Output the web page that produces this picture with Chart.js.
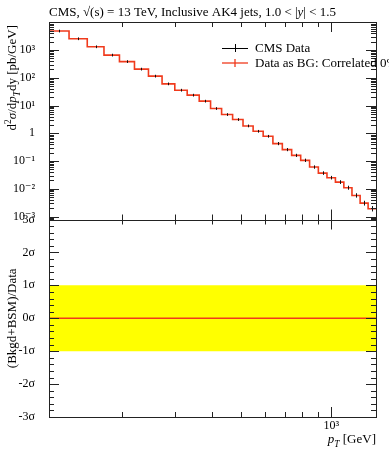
<!DOCTYPE html>
<html>
<head>
<meta charset="utf-8">
<script src="https://cdn.jsdelivr.net/npm/chart.js@4"></script>
<style>
  html, body { margin: 0; padding: 0; background: #fff; }
  #wrap { width: 389px; height: 450px; position: relative; }
</style>
</head>
<body>
<div id="wrap"><canvas id="chart"></canvas></div>
<script>
// bin edges in pT [GeV]
var binEdges = [114, 133, 153, 174, 196, 220, 245, 272, 300, 330, 362, 395, 430, 468, 507, 548,
                592, 638, 686, 737, 790, 846, 905, 967, 1032, 1101, 1172, 1248, 1327, 1410];
// d2sigma/dpT dy [pb/GeV], one per bin
var xsec = [4860, 2560, 1316, 659, 385, 206, 115, 60.5, 35.8, 23.7, 14.4, 7.82, 4.74, 3.13, 1.84,
            1.18, 0.78, 0.425, 0.258, 0.160, 0.106, 0.0606, 0.0368, 0.0251, 0.0174, 0.0109,
            0.00575, 0.00303, 0.00190];
// relative error of data points
var relErr = [0.12, 0.12, 0.12, 0.12, 0.12, 0.12, 0.12, 0.12, 0.12, 0.12, 0.12, 0.12, 0.12, 0.12, 0.12,
              0.12, 0.12, 0.14, 0.14, 0.14, 0.15, 0.15, 0.16, 0.16, 0.17, 0.18, 0.2, 0.22, 0.25];
// ratio (Bkgd+BSM)/Data in sigma
var ratioSigma = [0, 0, 0, 0, 0, 0, 0, 0, 0, 0, 0, 0, 0, 0, 0, 0, 0, 0, 0, 0, 0, 0, 0, 0, 0, 0, 0, 0, 0];
var bandHi = 1, bandLo = -1;
var yDecades = [1e-3, 1e-2, 1e-1, 1, 10, 100, 1000];
var sigmaTicks = [-3, -2, -1, 0, 1, 2, 3];
var xMajor = [1000];

var FONT = '"Liberation Serif", "DejaVu Serif", serif';
var RED = '#f03a1c';

function stepPoints(vals) {
    var pts = [];
    for (var i = 0; i < vals.length; i++) pts.push({x: binEdges[i], y: vals[i]});
    pts.push({x: binEdges[binEdges.length - 1], y: vals[vals.length - 1]});
    return pts;
}
var centres = xsec.map(function(v, i) {
    return {x: Math.sqrt(binEdges[i] * binEdges[i + 1]), y: v, e: relErr[i]};
});

var supMap = {'-': '\u207b', '0': '\u2070', '1': '\u00b9', '2': '\u00b2', '3': '\u00b3'};
function decadeLabel(v) {
    var p = Math.round(Math.log10(v));
    if (p === 0) return '1';
    return '10' + String(p).split('').map(function(c) { return supMap[c]; }).join('');
}

function fontOf(p, size) {
    var s = (p.sub || p.sup) ? size * 0.72 : size;
    return (p.i ? 'italic ' : '') + s + 'px ' + FONT;
}
function drawRich(ctx, parts, x, y, size, align) {
    var w = 0;
    parts.forEach(function(p) { ctx.font = fontOf(p, size); w += ctx.measureText(p.t).width; });
    var cx = align === 'right' ? x - w : (align === 'center' ? x - w / 2 : x);
    parts.forEach(function(p) {
        ctx.font = fontOf(p, size);
        var dy = p.sub ? size * 0.28 : (p.sup ? -size * 0.38 : 0);
        ctx.fillText(p.t, cx, y + dy);
        cx += ctx.measureText(p.t).width;
    });
}

// frames, inner ticks, error bars, labels, legend
var decor = {
    id: 'decor',
    afterDatasetsDraw: function(chart) {
        var ctx = chart.ctx, xs = chart.scales.x, ys = chart.scales.y;
        ctx.save();
        ctx.strokeStyle = '#111';
        ctx.lineWidth = 1;
        centres.forEach(function(c) {
            var px = Math.round(xs.getPixelForValue(c.x)) + 0.5;
            ctx.beginPath();
            ctx.moveTo(px, ys.getPixelForValue(c.y * (1 + c.e)));
            ctx.lineTo(px, ys.getPixelForValue(c.y / (1 + c.e)));
            ctx.stroke();
        });
        ctx.restore();
    },
    afterDraw: function(chart) {
        var ctx = chart.ctx, xs = chart.scales.x, ys = chart.scales.y, y2 = chart.scales.y2;
        var L = xs.left, R = xs.right;
        var T1 = ys.top, B1 = ys.bottom, T2 = y2.top, B2 = y2.bottom;
        ctx.save();
        ctx.strokeStyle = '#222';
        ctx.lineWidth = 1;
        function seg(x1, y1, x2, y2b) {
            ctx.beginPath(); ctx.moveTo(x1, y1); ctx.lineTo(x2, y2b); ctx.stroke();
        }
        function r(v) { return Math.round(v) + 0.5; }
        // frames
        ctx.strokeRect(r(L), r(T1), Math.round(R - L), Math.round(B2 - T1));
        seg(L, r(B1), R, r(B1));
        // x ticks
        for (var d = 100; d <= 1000; d *= 10) {
            for (var m = 1; m <= 9; m++) {
                var v = d * m;
                if (v < xs.min || v > xs.max) continue;
                var px = r(xs.getPixelForValue(v));
                var len = (m === 1) ? 10 : 5;
                seg(px, T1, px, T1 + len);
                seg(px, B1 - len, px, B1 + len);
                seg(px, B2, px, B2 - len);
            }
        }
        // upper y ticks
        for (var e = -4; e <= 4; e++) {
            for (var k = 1; k <= 9; k++) {
                var yv = k * Math.pow(10, e);
                if (yv < ys.min || yv > ys.max) continue;
                var py = r(ys.getPixelForValue(yv));
                var ln = (k === 1) ? 10 : 5;
                seg(L, py, L + ln, py);
                seg(R, py, R - ln, py);
            }
        }
        // lower y ticks
        for (var s = -15; s <= 15; s++) {
            var sv = s / 5;
            var qy = r(y2.getPixelForValue(sv));
            var l2 = (s % 5 === 0) ? 10 : 5;
            seg(L, qy, L + l2, qy);
            seg(R, qy, R - l2, qy);
        }
        ctx.restore();

        // text
        ctx.save();
        ctx.fillStyle = '#000';
        ctx.textBaseline = 'alphabetic';
        drawRich(ctx, [{t: 'CMS, \u221a(s) = 13 TeV, Inclusive AK4 jets, 1.0 < |'}, {t: 'y', i: true},
                       {t: '| < 1.5'}], L, 16, 13, 'left');
        drawRich(ctx, [{t: 'p', i: true}, {t: 'T', i: true, sub: true}, {t: ' [GeV]'}], R, 443, 13, 'right');
        ctx.save();
        ctx.translate(16, T1 + 3);
        ctx.rotate(-Math.PI / 2);
        drawRich(ctx, [{t: 'd'}, {t: '2', sup: true}, {t: '\u03c3', i: true}, {t: '/d'}, {t: 'p', i: true},
                       {t: 'T', i: true, sub: true}, {t: 'dy [pb/GeV]'}], 0, 0, 13, 'right');
        ctx.restore();
        ctx.save();
        ctx.translate(16, (T2 + B2) / 2);
        ctx.rotate(-Math.PI / 2);
        drawRich(ctx, [{t: '(Bkgd+BSM)/Data'}], 0, 0, 13, 'center');
        ctx.restore();

        // legend
        var lx = 222, ly1 = 48, ly2 = 63;
        ctx.lineWidth = 1;
        ctx.strokeStyle = '#000';
        seg(lx, r(ly1), lx + 26, r(ly1));
        seg(r(lx + 13), ly1 - 4, r(lx + 13), ly1 + 4);
        ctx.strokeStyle = RED;
        ctx.lineWidth = 1.3;
        seg(lx, ly2, lx + 26, ly2);
        seg(lx + 13, ly2 - 4, lx + 13, ly2 + 4);
        ctx.textBaseline = 'middle';
        drawRich(ctx, [{t: 'CMS Data'}], 255, ly1 + 1, 13, 'left');
        drawRich(ctx, [{t: 'Data as BG: Correlated 0%'}], 255, ly2 + 1, 13, 'left');
        ctx.restore();
    }
};

var ctx = document.getElementById('chart').getContext('2d');
new Chart(ctx, {
    type: 'line',
    data: {
        datasets: [{
            label: 'Data as BG: Correlated 0%',
            data: stepPoints(xsec),
            yAxisID: 'y',
            stepped: 'before',
            borderColor: RED,
            borderWidth: 1.6,
            pointRadius: 0,
            fill: false,
            order: 0
        }, {
            label: 'ratio',
            data: stepPoints(ratioSigma),
            yAxisID: 'y2',
            stepped: 'before',
            borderColor: RED,
            borderWidth: 1.6,
            pointRadius: 0,
            fill: false,
            order: 1
        }, {
            label: 'band',
            data: [{x: binEdges[0], y: bandHi}, {x: binEdges[binEdges.length - 1], y: bandHi}],
            yAxisID: 'y2',
            borderWidth: 0,
            pointRadius: 0,
            backgroundColor: '#ffff00',
            fill: {value: bandLo},
            order: 2
        }]
    },
    options: {
        responsive: true,
        maintainAspectRatio: false,
        animation: false,
        events: [],
        layout: { padding: { left: 0, right: 13, top: 22, bottom: 0 } },
        plugins: { legend: { display: false }, tooltip: { enabled: false } },
        scales: {
            x: {
                type: 'logarithmic',
                min: 114,
                max: 1410,
                grid: { display: false },
                border: { display: false },
                afterBuildTicks: function(s) { s.ticks = xMajor.map(function(v) { return {value: v}; }); },
                afterFit: function(s) { s.height = 33; },
                ticks: {
                    autoSkip: false, maxRotation: 0, padding: -6,
                    color: '#000', font: { family: FONT, size: 12 },
                    callback: function(v) { return decadeLabel(v); }
                }
            },
            y: {
                type: 'logarithmic',
                min: 7.8e-4,
                max: 1.03e4,
                position: 'left',
                stack: 'panels',
                stackWeight: 1,
                weight: 2,
                grid: { display: false },
                border: { display: false },
                afterBuildTicks: function(s) { s.ticks = yDecades.map(function(v) { return {value: v}; }); },
                afterFit: function(s) { s.width = 49; },
                ticks: {
                    autoSkip: false, padding: 6,
                    color: '#000', font: { family: FONT, size: 12 },
                    callback: function(v) { return decadeLabel(v); }
                }
            },
            y2: {
                type: 'linear',
                min: -3,
                max: 3,
                position: 'left',
                stack: 'panels',
                stackWeight: 1,
                weight: 1,
                grid: { display: false },
                border: { display: false },
                afterBuildTicks: function(s) { s.ticks = sigmaTicks.map(function(v) { return {value: v}; }); },
                afterFit: function(s) { s.width = 49; },
                ticks: {
                    autoSkip: false, padding: 6,
                    color: '#000', font: { family: FONT, size: 12 },
                    callback: function(v) { return v + '\u03c3'; }
                }
            }
        }
    },
    plugins: [decor]
});
</script>
</body>
</html>
